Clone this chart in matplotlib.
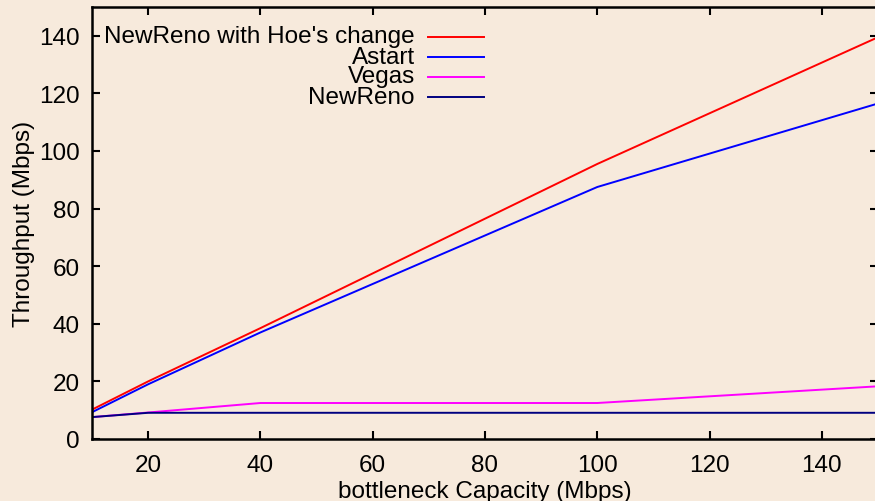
import matplotlib
matplotlib.use('Agg')
import matplotlib.pyplot as plt

plt.rcParams['font.family'] = ['Liberation Sans', 'DejaVu Sans']

capacity = [10, 20, 40, 100, 150]
hoe = [10.2, 20, 38.5, 95.5, 139.5]
astart = [9.3, 19, 37, 87.5, 116.5]
vegas = [7.6, 9.2, 12.5, 12.5, 18.3]
newreno = [7.6, 9.1, 9.1, 9.1, 9.1]

names = ["NewReno with Hoe's change", "Astart", "Vegas", "NewReno"]
series = [hoe, astart, vegas, newreno]
colors = ['#ff0000', '#0000ff', '#ff00ff', '#000080']

xticks = [20, 40, 60, 80, 100, 120, 140]
yticks = [0, 20, 40, 60, 80, 100, 120, 140]

bg = '#f7eadc'
fs = 17.5
W, H = 875, 502
fig = plt.figure(figsize=(W/100, H/100), dpi=100, facecolor=bg)
ax = fig.add_axes([92/W, (H-440)/H, (878-92)/W, (440-8)/H])
ax.set_facecolor(bg)

for ys, c in zip(series, colors):
    ax.plot(capacity, ys, color=c, lw=1.4)

ax.set_xlim(10, 150)
ax.set_ylim(0, 150)
ax.set_xticks(xticks)
ax.set_yticks(yticks)
ax.tick_params(direction='in', length=6, width=1.5, labelsize=fs,
               top=True, right=True)
ax.tick_params(axis='x', pad=11)
ax.tick_params(axis='y', pad=9)
for s in ax.spines.values():
    s.set_linewidth(1.8)

ax.set_xlabel('bottleneck Capacity (Mbps)', fontsize=fs, labelpad=3)
ax.set_ylabel('Throughput (Mbps)', fontsize=fs, labelpad=3)

# gnuplot-style key: right aligned text, sample line after it
rows = [37.5, 57.5, 77.5, 97.5]
for name, c, yr in zip(names, colors, rows):
    fig.text(415/W, 1 - yr/H, name, ha='right', va='center', fontsize=fs)
    fig.add_artist(plt.Line2D([428/W, 484/W], [1 - yr/H, 1 - yr/H],
                              color=c, lw=1.4))

fig.savefig('out.png', dpi=100, facecolor=bg)
